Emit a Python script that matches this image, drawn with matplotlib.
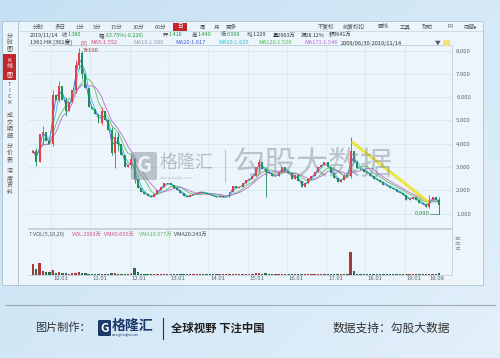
import numpy as np
import pandas as pd
import matplotlib.pyplot as plt
from matplotlib.patches import Rectangle, FancyBboxPatch
from matplotlib.lines import Line2D

plt.rcParams['font.family'] = ['Noto Sans CJK SC', 'DejaVu Sans']

W, H = 500, 358

# monthly closes, 2009-07 .. 2019-11
close_2009 = [3.7, 3.2, 4.4, 4.5, 4.1, 4.0]
close_2010 = [6.1, 5.9, 6.5, 5.9, 5.4, 5.8, 6.3, 7.4, 7.9, 7.0, 6.4, 5.6]
close_2011 = [5.5, 5.3, 4.9, 5.4, 5.0, 4.6, 3.6, 4.3, 4.0, 3.5, 3.0, 3.1]
close_2012 = [3.35, 2.5, 2.1, 1.95, 1.85, 1.75, 1.7, 1.85, 2.0, 2.15, 2.3, 2.3]
close_2013 = [2.25, 2.1, 2.0, 1.9, 1.75, 1.7, 1.8, 1.85, 1.9, 1.95, 1.9, 1.85]
close_2014 = [1.8, 1.75, 1.7, 1.75, 1.7, 1.7, 1.95, 2.2, 2.1, 2.15, 2.3, 2.45]
close_2015 = [2.5, 2.6, 3.0, 3.2, 2.9, 2.8, 2.75, 2.6, 2.6, 2.8, 3.0, 2.85]
close_2016 = [2.75, 2.5, 2.65, 2.4, 2.15, 2.3, 2.5, 2.6, 2.8, 3.0, 3.1, 3.2]
close_2017 = [3.0, 2.75, 2.55, 2.35, 2.45, 2.65, 2.6, 3.7, 3.2, 2.95, 2.9, 2.8]
close_2018 = [2.75, 2.6, 2.5, 2.45, 2.35, 2.25, 2.2, 2.1, 2.05, 1.95, 1.9, 1.8]
close_2019 = [1.6, 1.65, 1.7, 1.6, 1.45, 1.4, 1.3, 1.6, 1.7, 1.6, 1.38]
first_open = 3.6

# wick extremes (low, high) for the months with visible shadows
wicks = {
    '2009-08': (3.05, 3.8), '2009-10': (4.0, 4.75), '2010-01': (3.9, 6.3),
    '2010-03': (5.8, 6.7), '2010-05': (5.2, 6.0), '2010-08': (6.2, 7.6),
    '2010-09': (7.2, 8.1), '2010-10': (6.8, 8.0), '2011-04': (4.8, 5.6),
    '2011-07': (3.5, 4.7), '2011-08': (2.95, 4.5), '2011-09': (3.7, 4.5),
    '2012-01': (2.9, 3.5), '2012-02': (2.3, 3.4), '2015-04': (2.8, 3.35),
    '2015-06': (1.7, 3.0), '2017-08': (2.55, 4.3), '2019-08': (1.25, 1.8),
    '2019-11': (0.99, 1.72),
}

# monthly volume (亿股, rough)
vol_2009 = [2.4, 1.2, 2.6, 0.9, 0.7, 0.6]
vol_2010 = [1.0, 0.5, 0.6, 0.4, 0.4, 0.3, 0.4, 0.5, 0.6, 0.5, 0.4, 0.3]
vol_2011 = [0.3, 0.3, 0.3, 0.3, 0.2, 0.3, 0.4, 0.5, 0.3, 0.3, 0.3, 0.3]
vol_2012 = [0.4, 1.6, 0.6, 0.3, 0.2, 0.2, 0.2, 0.2, 0.2, 0.2, 0.2, 0.2]
vol_2013 = [0.2, 0.2, 0.15, 0.2, 0.2, 0.15, 0.2, 0.2, 0.15, 0.2, 0.2, 0.15]
vol_2014 = [0.15, 0.2, 0.15, 0.15, 0.2, 0.15, 0.2, 0.3, 0.2, 0.2, 0.25, 0.3]
vol_2015 = [0.3, 0.3, 0.5, 0.4, 0.3, 0.4, 0.3, 0.3, 0.2, 0.2, 0.3, 0.2]
vol_2016 = [0.2, 0.2, 0.2, 0.2, 0.3, 0.2, 0.2, 0.2, 0.2, 0.3, 0.2, 0.3]
vol_2017 = [0.2, 0.2, 0.2, 0.2, 0.2, 0.2, 0.3, 5.0, 0.8, 0.3, 0.2, 0.2]
vol_2018 = [0.2, 0.2, 0.2, 0.2, 0.2, 0.15, 0.15, 0.2, 0.15, 0.2, 0.15, 0.15]
vol_2019 = [0.2, 0.15, 0.2, 0.15, 0.15, 0.15, 0.2, 0.25, 0.2, 0.15, 0.4]

tick_years = [2010, 2011, 2012, 2013, 2014, 2015, 2016, 2017, 2018, 2019, 2019.58]
tick_labels = ['10.01', '11.01', '12.01', '13.01', '14.01', '15.01', '16.01',
               '17.01', '18.01', '19.01', '19.08']
price_ticks = [1, 2, 3, 4, 5, 6, 7, 8]
vol_labels = ['3亿', '2亿', '1亿']

closes = np.array(close_2009 + close_2010 + close_2011 + close_2012 + close_2013 + close_2014
                  + close_2015 + close_2016 + close_2017 + close_2018 + close_2019)
vols = np.array(vol_2009 + vol_2010 + vol_2011 + vol_2012 + vol_2013 + vol_2014
                + vol_2015 + vol_2016 + vol_2017 + vol_2018 + vol_2019)
months = pd.period_range('2009-07', '2019-11', freq='M')
t = 2009.5 + (np.arange(len(months)) + 0.5) / 12
opens = np.concatenate([[first_open], closes[:-1]])
lows = np.minimum(opens, closes)
highs = np.maximum(opens, closes)
for k, (lo, hi) in wicks.items():
    i = months.get_loc(pd.Period(k, 'M'))
    lows[i], highs[i] = lo, hi


def fx(x):
    return x / W


def fy(y):
    return 1 - y / H


def yr(px):
    return 2010 + (px - 51) / 39.3


fig = plt.figure(figsize=(5, 3.58), dpi=100)

# page background
bg = fig.add_axes([0, 0, 1, 1], zorder=-10)
gx, gy = np.meshgrid(np.linspace(0, 1, 200), np.linspace(0, 1, 150))
grad = 0.55 * gx + 0.45 * gy
bg.imshow(grad, cmap=plt.matplotlib.colors.LinearSegmentedColormap.from_list(
    'bgc', ['#c6e0f3', '#e2f0fa']), aspect='auto', extent=[0, 1, 0, 1])
bg.set_xlim(0, 1)
bg.set_ylim(0, 1)
bg.axis('off')

# quote panel
fig.patches.append(Rectangle((fx(2), fy(285)), fx(481), (285 - 21) / H, transform=fig.transFigure,
                             facecolor='#eff7fc', edgecolor='#a9bccb', lw=0.6, alpha=0.9, zorder=-5))
fig.lines.append(Line2D([fx(18), fx(18)], [fy(22), fy(285)], transform=fig.transFigure,
                        color='#a9bccb', lw=0.6))
fig.lines.append(Line2D([fx(18), fx(483)], [fy(31), fy(31)], transform=fig.transFigure,
                        color='#c3d2dc', lw=0.5))

ax = fig.add_axes([fx(28), fy(228), (452 - 28) / W, (228 - 45) / H])
vax = fig.add_axes([fx(28), fy(275), (452 - 28) / W, (275 - 229) / H], sharex=ax)

up = closes >= opens
col = np.where(up, '#e0404a', '#1f8f55')
ax.vlines(t, lows, highs, colors=col, lw=0.6, zorder=3)
ax.bar(t, np.maximum(np.abs(closes - opens), 0.03), width=0.05, bottom=np.minimum(opens, closes),
       color=col, zorder=4)

s = pd.Series(closes)
ax.plot(t, s.rolling(2, min_periods=1).mean(), color='#4a5fd0', lw=0.6, zorder=2)
ax.plot(t, s.rolling(3, min_periods=1).mean(), color='#33c3cc', lw=0.6, zorder=2)
ax.plot(t, s.rolling(6, min_periods=1).mean(), color='#5cbf5c', lw=0.6, zorder=2)
ax.plot(t, s.rolling(8, min_periods=1).mean(), color='#b866d8', lw=0.6, zorder=2)

# trend line
ax.plot([2017.68, 2019.59], [4.05, 1.52], color='#ece32a', lw=2.2, alpha=0.9, zorder=5,
        solid_capstyle='round')

ax.set_xlim(yr(28), yr(452))
ax.set_ylim(0.386, 8.24)
ax.set_yticks(price_ticks)
ax.set_xticks(tick_years[:-1])
ax.grid(True, color='#d6e4ee', lw=0.5)
ax.set_facecolor('none')
ax.tick_params(length=0, labelbottom=False, labelleft=False, labelright=True, labelsize=4.3,
               labelcolor='#5a6670', pad=3)
ax.set_yticklabels(['%.3f' % v for v in price_ticks])
for sp in ax.spines.values():
    sp.set_color('#b5c6d2')
    sp.set_linewidth(0.5)
ax.spines['left'].set_visible(False)

i_max = int(np.argmax(highs))
ax.annotate('8.100', xy=(t[i_max] + 0.05, highs[i_max]), xytext=(t[i_max] + 0.12, highs[i_max] - 0.08),
            fontsize=4.3, color='#a83a3a', va='center',
            arrowprops=dict(arrowstyle='-', color='#a83a3a', lw=0.4))
i_min = int(np.argmin(lows))
ax.plot([t[i_min] - 0.23, t[i_min], t[i_min]], [0.99, 0.99, 1.3], color='#2f8a48', lw=0.5)
ax.text(t[i_min] - 0.25, 0.99, '0.990', fontsize=4.3, color='#2f8a48', ha='right', va='center')

vax.bar(t, vols, width=0.06, color=np.where(up, '#a43a3a', '#2d6a4a'))
vax.set_ylim(0, 10)
vax.set_xticks(tick_years[:-1])
vax.grid(True, axis='x', color='#d6e4ee', lw=0.5)
vax.set_facecolor('none')
vax.tick_params(length=0, labelbottom=False, labelleft=False)
vax.set_yticks([])
for sp in vax.spines.values():
    sp.set_color('#b5c6d2')
    sp.set_linewidth(0.5)
vax.spines['left'].set_visible(False)

for yv, lab in zip(tick_years, tick_labels):
    fig.text(fx(51 + (yv - 2010) * 39.3) + 0.004, fy(279), lab, fontsize=4.3, color='#5a6670',
             ha='left', va='center')
for py, lab in zip([239, 244, 248.5], vol_labels):
    fig.text(fx(455), fy(py), lab, fontsize=3.0, color='#6a7680', ha='left', va='center')

# volume legend
vol_items = [(29, 'T', '#777'), (33, 'VOL(5,10,20)', '#555'), (72, 'VOL:2963万', '#d04a7a'),
             (104, 'VMA5:655万', '#d04a7a'), (139, 'VMA10:377万', '#55b855'),
             (174, 'VMA20:243万', '#444')]
for x, s_, c in vol_items:
    fig.text(fx(x), fy(234), s_, fontsize=3.9, color=c, ha='left', va='center')

# toolbar row
tabs = [(33, '分时'), (55, '多日'), (76, '1分'), (93, '5分'), (111, '15分'), (133, '30分'),
        (155, '60分'), (200, '周'), (214, '月'), (226, '更多'), (318, '不复权'), (343, '前复权扣'),
        (377, '画线'), (400, '工具'), (422, '帮助'), (447, 'F9'), (463, '隐藏▸')]
for x, s_ in tabs:
    fig.text(fx(x), fy(27), s_, fontsize=4.0, color='#555', ha='left', va='center')
fig.patches.append(Rectangle((fx(173), fy(31)), fx(14), 8 / H, transform=fig.transFigure,
                             facecolor='#c0282d', edgecolor='none'))
fig.text(fx(180), fy(27), '日', fontsize=4.0, color='white', ha='center', va='center')

# quote row
green = '#1f9a3c'
row2 = [(30, '2019/11/14', '#333'), (62, '收', '#444'), (68, '1.380', green), (99, '幅', '#444'),
        (105, '-13.75%(-0.220)', green), (163, '开', '#444'), (169, '1.410', green),
        (192, '高', '#444'), (198, '1.440', green), (221, '低', '#444'), (227, '0.990', green),
        (247, '均', '#444'), (253, '1.229', '#333'), (273, '量2963万', '#333'),
        (301, '振28.12%', '#333'), (329, '额3641万', '#333')]
for x, s_, c in row2:
    fig.text(fx(x), fy(35), s_, fontsize=3.9, color=c, ha='left', va='center')

row3 = [(30, '1361 HK [361度]', '#333'), (80, '[3]', '#d03a3a'), (90, 'MA5:1.552', '#d64a7a'),
        (133, 'MA10:1.580', '#8fa0b0'), (175, 'MA20:1.617', '#4a5fd0'),
        (218, 'MA60:1.625', '#33c3cc'), (258, 'MA120:1.529', '#55b855'),
        (304, 'MA171:1.546', '#b866d8'), (341, '2009/06/30-2019/11/14', '#333'),
        (435, '▼', '#556')]
for x, s_, c in row3:
    fig.text(fx(x), fy(43), s_, fontsize=4.1, color=c, ha='left', va='center')
fig.patches.append(Rectangle((fx(443), fy(46)), fx(7), 6 / H, transform=fig.transFigure,
                             facecolor='#f1e27a', edgecolor='none'))

# side tabs
side = [(['分', '时', '图'], [36, 42, 48], '#555'),
        (['T', 'I', 'C', 'K'], [85, 91, 97, 103], '#555'),
        (['成', '交', '明', '细'], [115, 122, 129, 136], '#555'),
        (['分', '价', '表'], [146, 153, 160], '#555'),
        (['深', '度', '资', '料'], [171, 178, 185, 192], '#555')]
fig.patches.append(Rectangle((fx(3), fy(80)), fx(13), 26 / H, transform=fig.transFigure,
                             facecolor='#c0282d', edgecolor='none'))
side.append((['K', '线', '图'], [60, 67, 74], 'white'))
for chars, ys, c in side:
    for ch, y in zip(chars, ys):
        fig.text(fx(9.5), fy(y), ch, fontsize=4.3, color=c, ha='center', va='center')

# watermark
fig.patches.append(FancyBboxPatch((fx(131), fy(180)), fx(26), 28 / H, transform=fig.transFigure,
                                  boxstyle='round,pad=0,rounding_size=0.005',
                                  facecolor='#7d8890', edgecolor='none', alpha=0.45, zorder=6))
fig.text(fx(144), fy(166), 'G', fontsize=15, fontweight='bold', color='white', alpha=0.8,
         ha='center', va='center', zorder=7)
fig.text(fx(160), fy(163), '格隆汇', fontsize=13, color='#7d8890', alpha=0.5, ha='left', va='center',
         zorder=7)
fig.text(fx(160), fy(178), 'www.gelonghui.com', fontsize=2.5, color='#7d8890', alpha=0.5,
         ha='left', va='center', zorder=7)
fig.lines.append(Line2D([fx(225), fx(225)], [fy(150), fy(182)], transform=fig.transFigure,
                        color='#7d8890', alpha=0.45, lw=0.8))
fig.text(fx(233), fy(165), '勾股大数据', fontsize=23, color='#7d8890', alpha=0.45, ha='left',
         va='center', zorder=7)

# footer
fig.lines.append(Line2D([fx(5), fx(495)], [fy(305), fy(305)], transform=fig.transFigure,
                        color='#98a8b5', lw=0.8))
fig.text(fx(35), fy(328), '图片制作：', fontsize=8, color='#333', ha='left', va='center')
fig.patches.append(FancyBboxPatch((fx(98), fy(336)), fx(13), 16 / H, transform=fig.transFigure,
                                  boxstyle='round,pad=0,rounding_size=0.003',
                                  facecolor='#1b3a6b', edgecolor='none'))
fig.text(fx(104.5), fy(328), 'G', fontsize=8.5, fontweight='bold', color='white', ha='center',
         va='center')
fig.text(fx(112), fy(326), '格隆汇', fontsize=10, fontweight='bold', color='#1b3a6b', ha='left',
         va='center')
fig.text(fx(112), fy(335), 'www.gelonghui.com', fontsize=2, color='#1b3a6b', ha='left', va='center')
fig.lines.append(Line2D([fx(163), fx(163)], [fy(318), fy(339)], transform=fig.transFigure,
                        color='#333', lw=0.8))
fig.text(fx(171), fy(328), '全球视野 下注中国', fontsize=8.2, fontweight='bold', color='#222',
         ha='left', va='center')
fig.text(fx(333), fy(328), '数据支持：勾股大数据', fontsize=8.5, color='#333', ha='left', va='center')

fig.savefig('out.png', dpi=100)
